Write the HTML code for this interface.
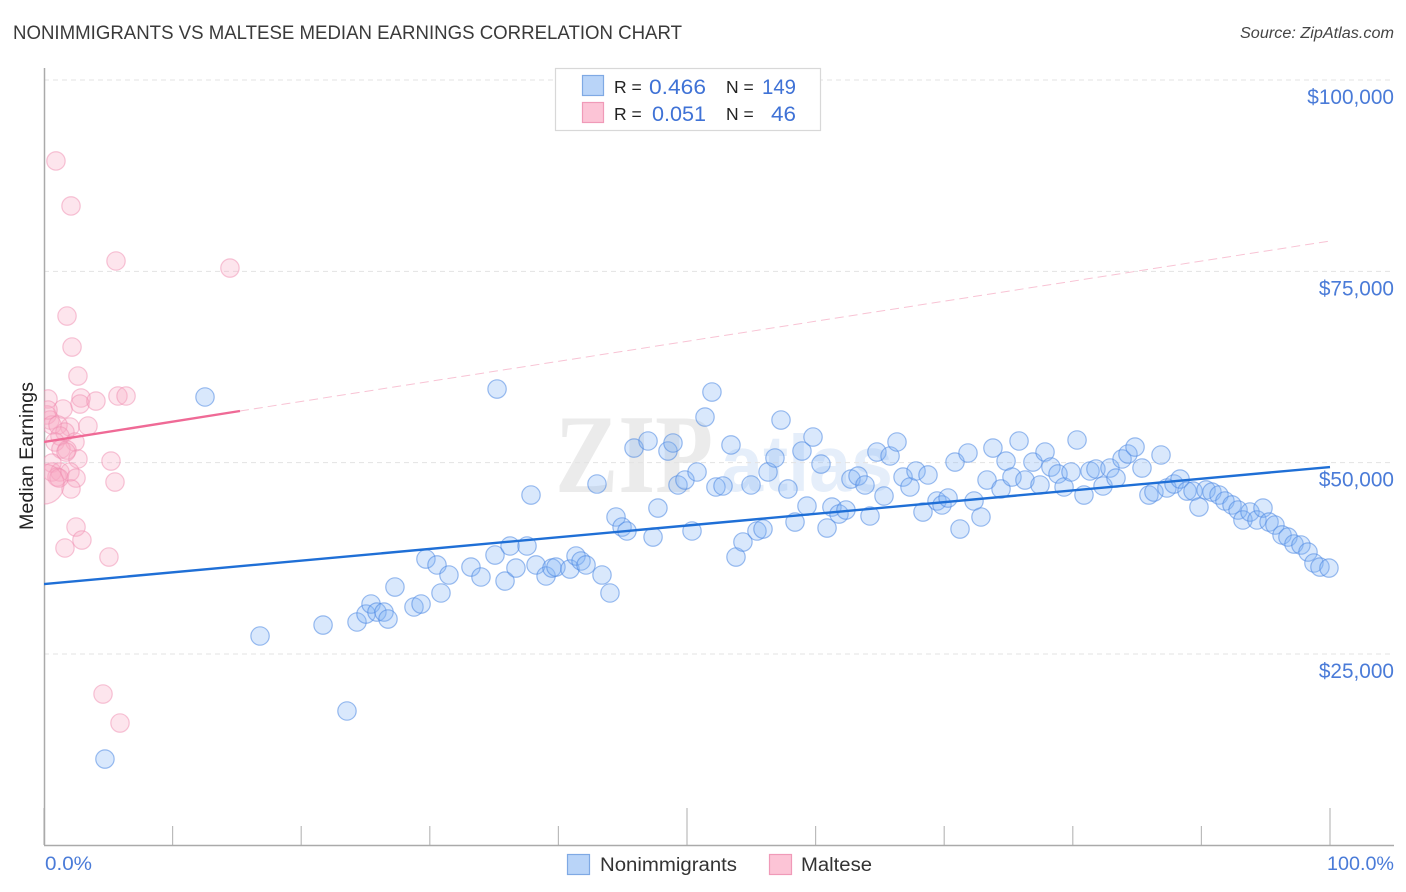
<!DOCTYPE html>
<html lang="en">
<head>
<meta charset="utf-8">
<title>Nonimmigrants vs Maltese Median Earnings Correlation Chart</title>
<style>
html,body{margin:0;padding:0;background:#fff;width:1406px;height:892px;overflow:hidden}
svg{display:block;font-family:"Liberation Sans",Arial,sans-serif}
</style>
</head>
<body>
<svg id="chart" xmlns="http://www.w3.org/2000/svg" width="1406" height="892" viewBox="0 0 1406 892">
  <defs>
    <clipPath id="plot-clip"><rect x="44" y="60" width="1362" height="785"/></clipPath>
  </defs>
  <rect x="0" y="0" width="1406" height="892" fill="#fff"/>
  <text x="13" y="39" font-size="19" fill="#3a3a3a" textLength="669" lengthAdjust="spacingAndGlyphs">NONIMMIGRANTS VS MALTESE MEDIAN EARNINGS CORRELATION CHART</text>
  <text x="1394" y="38" font-size="15.5" font-style="italic" fill="#444" text-anchor="end" textLength="154" lengthAdjust="spacingAndGlyphs">Source: ZipAtlas.com</text>

  <g>
    <text x="555" y="492" font-family="'Liberation Serif',serif" font-size="112" font-weight="bold" fill="#ebebeb" textLength="158" lengthAdjust="spacingAndGlyphs">ZIP</text>
    <text x="721" y="491" font-size="80" font-weight="bold" fill="#e5eefa" textLength="172" lengthAdjust="spacingAndGlyphs">atlas</text>
  </g>

  <g id="grid"></g>
  <g id="y-labels"></g>
  <g id="x-ticks"></g>

  <line x1="44.5" y1="68" x2="44.5" y2="845" stroke="#aaa" stroke-width="1.5"/>
  <line x1="44" y1="845.5" x2="1394" y2="845.5" stroke="#aaa" stroke-width="1.5"/>

  <g clip-path="url(#plot-clip)">
    <g id="maltese-points"></g>
    <g id="nonimmigrant-points"></g>
    <g id="trends"></g>
  </g>

  <text transform="translate(33,456) rotate(-90)" font-size="19" fill="#222" text-anchor="middle" textLength="148" lengthAdjust="spacingAndGlyphs">Median Earnings</text>
  <text x="45" y="870" font-size="19" fill="#4a7bd8" textLength="47" lengthAdjust="spacingAndGlyphs">0.0%</text>
  <text x="1394" y="870" font-size="19" fill="#4a7bd8" text-anchor="end" textLength="67" lengthAdjust="spacingAndGlyphs">100.0%</text>

  <g>
    <rect x="555.5" y="68.5" width="265" height="62" fill="#fff" stroke="#d8d8d8" stroke-width="1.2"/>
    <rect x="582.5" y="75.5" width="21" height="20" fill="#b9d4f8" stroke="#7fa9e4" stroke-width="1.2"/>
    <rect x="582.5" y="102.5" width="21" height="20" fill="#fcc4d6" stroke="#f09ab8" stroke-width="1.2"/>
    <text x="614" y="93" font-size="17.5" fill="#222">R =</text>
    <text x="706" y="94" font-size="21" fill="#3f72d6" text-anchor="end" textLength="57" lengthAdjust="spacingAndGlyphs">0.466</text>
    <text x="726" y="93" font-size="17.5" fill="#222">N =</text>
    <text x="796" y="94" font-size="21" fill="#3f72d6" text-anchor="end" textLength="34" lengthAdjust="spacingAndGlyphs">149</text>
    <text x="614" y="120" font-size="17.5" fill="#222">R =</text>
    <text x="706" y="121" font-size="21" fill="#3f72d6" text-anchor="end" textLength="54" lengthAdjust="spacingAndGlyphs">0.051</text>
    <text x="726" y="120" font-size="17.5" fill="#222">N =</text>
    <text x="796" y="121" font-size="21" fill="#3f72d6" text-anchor="end" textLength="25" lengthAdjust="spacingAndGlyphs">46</text>
  </g>

  <g>
    <rect x="567.5" y="854.5" width="22" height="20" fill="#b9d4f8" stroke="#7fa9e4" stroke-width="1.2"/>
    <text x="600" y="871" font-size="19" fill="#333" textLength="137" lengthAdjust="spacingAndGlyphs">Nonimmigrants</text>
    <rect x="769.5" y="854.5" width="22" height="20" fill="#fcc4d6" stroke="#f09ab8" stroke-width="1.2"/>
    <text x="801" y="871" font-size="19" fill="#333" textLength="71" lengthAdjust="spacingAndGlyphs">Maltese</text>
  </g>
</svg>

<script>
// Axis values
const yTickValues = [100000, 75000, 50000, 25000];
const yTickLabels = ["$100,000", "$75,000", "$50,000", "$25,000"];
const xTickValues = [0, 10, 20, 30, 40, 50, 60, 70, 80, 90, 100];

// Nonimmigrants: share (%) and median earnings ($ thousands)
const nonimmigrantShare = [
4.74,12.52,16.80,21.70,23.56,24.34,25.04,25.43,25.89,26.44,26.75,27.29,28.77,29.32,29.70,30.56,30.87,31.49,33.20,33.98,
35.07,35.23,35.85,36.24,36.70,37.56,37.87,38.26,39.04,39.50,39.81,40.90,41.37,41.76,42.15,43.00,43.39,44.01,44.48,44.95,
45.33,45.88,46.97,47.36,47.74,48.52,48.91,49.30,49.84,50.39,50.78,51.40,51.94,52.25,52.80,53.42,53.81,54.35,54.98,55.44,
55.91,56.30,56.84,57.31,57.85,58.40,58.94,59.33,59.80,60.42,60.89,61.27,61.82,62.36,62.75,63.30,63.84,64.23,64.77,65.32,
65.79,66.33,66.80,67.34,67.81,68.35,68.74,69.44,69.83,70.30,70.84,71.23,71.85,72.32,72.86,73.33,73.79,74.42,74.81,75.27,
75.82,76.28,76.90,77.45,77.84,78.30,78.85,79.32,79.86,80.33,80.87,81.34,81.80,82.35,82.89,83.36,83.83,84.29,84.84,85.38,
85.92,86.31,86.86,87.32,87.87,88.34,88.88,89.35,89.81,90.36,90.82,91.37,91.83,92.38,92.85,93.23,93.78,94.32,94.79,95.26,
95.72,96.27,96.73,97.20,97.74,98.29,98.75,99.22,99.92
];
const nonimmigrantEarnings = [
11.27,58.58,27.35,28.78,17.55,29.18,30.22,31.53,30.48,30.48,29.57,33.75,31.14,31.53,37.41,36.63,32.97,35.32,36.36,35.06,
37.93,59.62,34.53,39.11,36.23,39.11,45.77,36.63,35.19,36.23,36.36,36.10,37.80,37.15,36.63,47.21,35.32,32.97,42.90,41.59,
41.07,51.91,52.83,40.28,44.07,51.52,52.57,47.08,47.73,41.07,48.78,55.96,59.23,46.82,46.95,52.31,37.67,39.63,47.08,41.07,
41.33,48.78,50.61,55.57,46.56,42.24,51.52,44.33,53.35,49.82,41.46,44.20,43.29,43.81,47.86,48.25,47.08,43.03,51.39,45.64,
50.87,52.70,48.12,46.82,48.91,43.55,48.39,44.99,44.47,45.38,50.08,41.33,51.26,44.99,42.90,47.73,51.91,46.56,50.21,48.12,
52.83,47.73,50.08,47.08,51.39,49.43,48.52,46.82,48.78,52.96,45.77,48.91,49.17,46.95,49.30,47.99,50.48,51.13,52.04,49.30,
45.77,46.16,51.00,46.69,47.21,47.86,46.29,46.29,44.20,46.43,46.16,45.77,44.99,44.47,43.81,42.51,43.55,42.51,44.07,42.24,
41.85,40.55,40.28,39.37,39.24,38.32,36.89,36.36,36.23
];

// Maltese: share (%) and median earnings ($ thousands)
const malteseShare = [
0.93,2.10,5.60,14.46,1.79,2.18,2.64,0.31,2.88,2.80,1.48,4.04,5.75,6.38,2.02,3.42,0.23,0.47,0.62,1.09,
1.63,1.24,2.41,0.86,1.32,1.79,2.64,0.62,0.62,1.24,1.01,2.02,2.49,2.10,5.21,5.52,2.49,2.95,1.63,5.05,
4.59,5.91,1.17,1.71,0.31
];
const malteseEarnings = [
89.42,83.54,76.35,75.43,69.16,65.11,61.32,58.32,58.45,57.66,57.01,58.05,58.71,58.71,54.66,54.79,56.23,55.57,54.92,54.92,
54.00,53.48,52.70,52.70,51.78,51.65,50.48,49.95,48.78,48.78,48.12,48.78,47.99,46.56,50.21,47.47,41.59,39.89,38.85,37.67,
19.77,15.98,47.99,51.39,56.88
];
// The one high-population Maltese observation, drawn larger at the axis
const malteseLargeShare = [0];
const malteseLargeEarnings = [47.21];

// Trend line end values ($ thousands at given share %)
const nonimmigrantTrendShare = [0, 100];
const nonimmigrantTrendEarnings = [34.14, 49.43];
const malteseTrendShare = [0, 15.24, 100];
const malteseTrendEarnings = [52.70, 56.75, 78.96];

const SVG_NS = "http://www.w3.org/2000/svg";
function xScale(pct) { return 44 + pct * 12.86; }
function yScale(dollars) { return 80 + (100000 - dollars) * 191.33 / 25000; }

function make(parentId, tag, attrs) {
  const el = document.createElementNS(SVG_NS, tag);
  for (const k in attrs) el.setAttribute(k, attrs[k]);
  document.getElementById(parentId).appendChild(el);
  return el;
}

yTickValues.forEach(function (v, i) {
  const line = make("grid", "line", {
    x1: 44, x2: 1394, y1: yScale(v), y2: yScale(v),
    stroke: "#e3e3e3", "stroke-width": 1, "stroke-dasharray": "5 4"
  });
  
  

  const label = make("y-labels", "text", {
    x: 1394, y: yScale(v) + 24, "font-size": 20.8, fill: "#4a7bd8", "text-anchor": "end"
  });
  label.textContent = yTickLabels[i];
  
  
});

xTickValues.forEach(function (v) {
  const major = v % 50 === 0;
  const tick = make("x-ticks", "line", {
    x1: xScale(v), x2: xScale(v), y1: major ? 808 : 826, y2: 845,
    stroke: "#bbb", "stroke-width": 1.2
  });
  
  
});

malteseShare.forEach(function (s, i) {
  const dot = make("maltese-points", "circle", {
    cx: xScale(s), cy: yScale(malteseEarnings[i] * 1000), r: 9.2,
    fill: "rgba(248,170,195,0.3)", stroke: "rgba(240,140,175,0.5)", "stroke-width": 1.2
  });
  
  
});

malteseLargeShare.forEach(function (s, i) {
  const dot = make("maltese-points", "circle", {
    cx: xScale(s), cy: yScale(malteseLargeEarnings[i] * 1000), r: 20,
    fill: "rgba(248,170,195,0.3)", stroke: "rgba(240,140,175,0.5)", "stroke-width": 1.2
  });
  
  
});

nonimmigrantShare.forEach(function (s, i) {
  const dot = make("nonimmigrant-points", "circle", {
    cx: xScale(s), cy: yScale(nonimmigrantEarnings[i] * 1000), r: 9.2,
    fill: "rgba(130,180,245,0.3)", stroke: "rgba(75,135,225,0.55)", "stroke-width": 1.2
  });
  
  
});

const blueTrend = make("trends", "line", {
  x1: xScale(nonimmigrantTrendShare[0]), y1: yScale(nonimmigrantTrendEarnings[0] * 1000),
  x2: xScale(nonimmigrantTrendShare[1]), y2: yScale(nonimmigrantTrendEarnings[1] * 1000),
  stroke: "#1f6fd6", "stroke-width": 2.4
});



const pinkTrendSolid = make("trends", "line", {
  x1: xScale(malteseTrendShare[0]), y1: yScale(malteseTrendEarnings[0] * 1000),
  x2: xScale(malteseTrendShare[1]), y2: yScale(malteseTrendEarnings[1] * 1000),
  stroke: "#ef6a96", "stroke-width": 2.4
});



const pinkTrendDashed = make("trends", "line", {
  x1: xScale(malteseTrendShare[1]), y1: yScale(malteseTrendEarnings[1] * 1000),
  x2: xScale(malteseTrendShare[2]), y2: yScale(malteseTrendEarnings[2] * 1000),
  stroke: "#f8c3d4", "stroke-width": 1, "stroke-dasharray": "9 5"
});


</script>
</body>
</html>
